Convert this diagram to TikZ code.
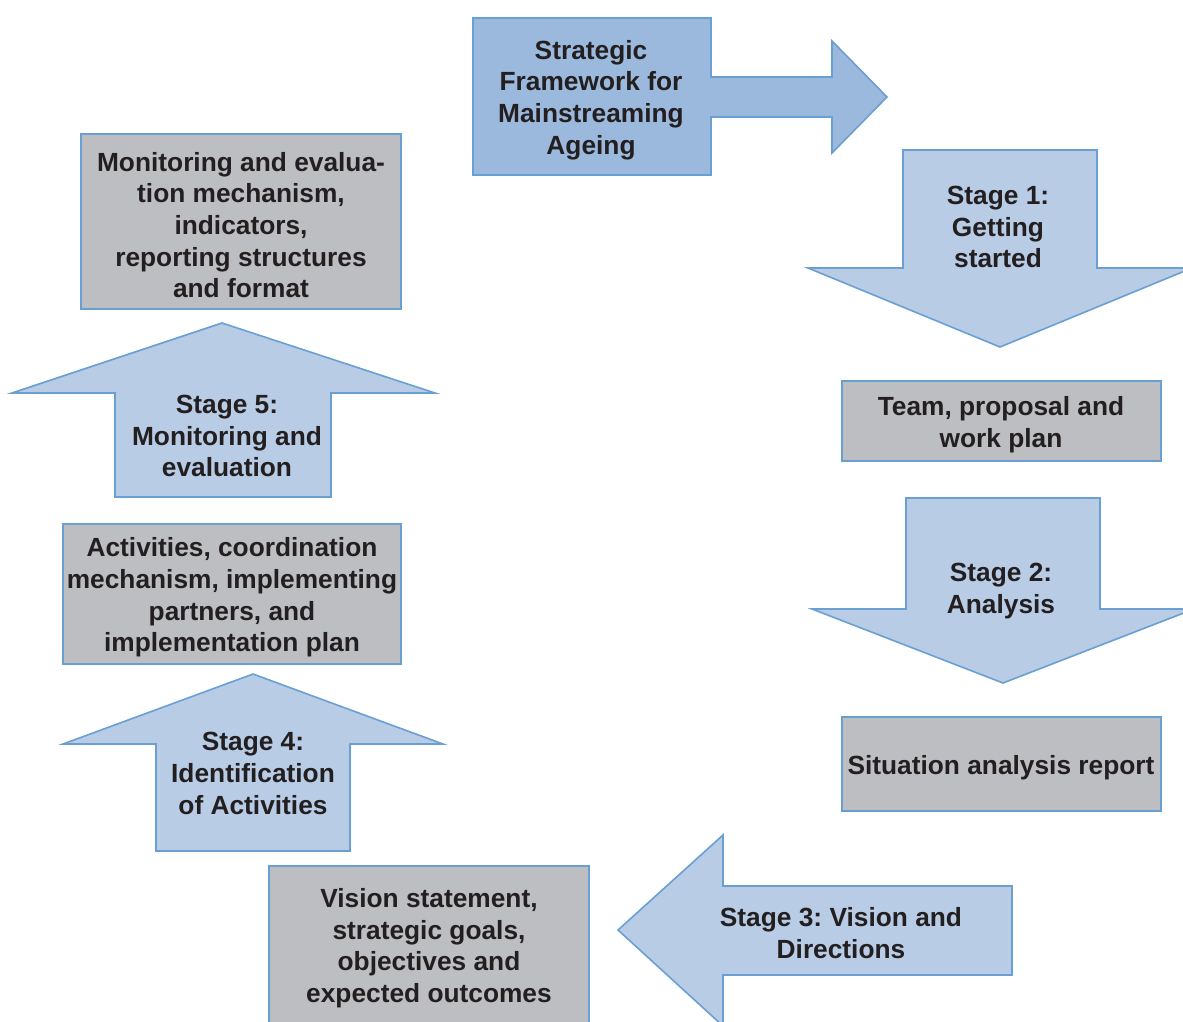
\documentclass[tikz,border=0pt]{standalone}
\usepackage{fontspec}
\setmainfont{Liberation Sans}
\frenchspacing
\definecolor{edge}{HTML}{6A9FD2}
\definecolor{deepblue}{HTML}{9BB9DD}
\definecolor{paleblue}{HTML}{B8CCE6}
\definecolor{boxgrey}{HTML}{BDBEC1}
\definecolor{txt}{HTML}{231F20}
\tikzset{
  shp/.style={draw=edge, line width=1.6pt, line join=miter},
  outcome/.style={shp, fill=boxgrey},
  stagearrow/.style={shp, fill=paleblue},
  lbl/.style={align=center, text=txt, inner sep=0pt, yshift=-2.5pt,
    font=\bfseries\fontsize{26.3}{31.6}\selectfont}
}
\begin{document}
\begin{tikzpicture}[x=1pt,y=-1pt]
\useasboundingbox (0,0) rectangle (1183,1021);
\clip (0,0) rectangle (1183,1021);
\fill[white] (0,0) rectangle (1183,1021);

% framework box with its arrow to the right
\draw[shp, fill=deepblue] (473,18) -- (711,18) -- (711,77) -- (832,77) -- (832,41)
  -- (887,97) -- (832,153) -- (832,117) -- (711,117) -- (711,175) -- (473,175) -- cycle;
\node[lbl] (frame) at (591,97.5) {Strategic\\Framework for\\Mainstreaming\\Ageing};

% stage 1: down arrow
\draw[stagearrow] (903,150) -- (1097,150) -- (1097,268) -- (1192,268) -- (1000,347)
  -- (808,268) -- (903,268) -- cycle;
\node[lbl] (s1) at (998,224.5) {Stage 1:\\Getting\\started};

\draw[outcome] (842,381) rectangle (1161,461);
\node[lbl] (team) at (1001,422) {Team, proposal and\\work plan};

% stage 2: down arrow
\draw[stagearrow] (906,498) -- (1100,498) -- (1100,609) -- (1194,609) -- (1003,683)
  -- (812,609) -- (906,609) -- cycle;
\node[lbl] (s2) at (1001,588.5) {Stage 2:\\Analysis};

\draw[outcome] (842,717) rectangle (1161,811);
\node[lbl] (report) at (1001,765) {Situation analysis report};

% stage 3: left arrow
\draw[stagearrow] (1012,886) -- (1012,975) -- (723,975) -- (723,1026) -- (618,930)
  -- (723,835) -- (723,886) -- cycle;
\node[lbl] (s3) at (841,930.5) {Stage 3: Vision and\\Directions};

\draw[outcome] (269,866) rectangle (589,1030);
\node[lbl] (vision) at (429,945.5) {Vision statement,\\strategic goals,\\objectives and\\expected outcomes};

% stage 4: up arrow
\draw[stagearrow] (156,851) -- (156,744) -- (63,744) -- (253,674) -- (443,744)
  -- (350,744) -- (350,851) -- cycle;
\node[lbl] (s4) at (253,771) {Stage 4:\\Identification\\of Activities};

\draw[outcome] (63,524) rectangle (401,664);
\node[lbl] (acts) at (232,595) {Activities, coordination\\mechanism, implementing\\partners, and\\implementation plan};

% stage 5: up arrow
\draw[stagearrow] (115,497) -- (115,393) -- (12,393) -- (222,323) -- (435,393)
  -- (331,393) -- (331,497) -- cycle;
\node[lbl] (s5) at (227,433.5) {Stage 5:\\Monitoring and\\evaluation};

\draw[outcome] (81,134) rectangle (401,309);
\node[lbl] (monitor) at (241,222.5) {Monitoring and evalua-\\tion mechanism,\\indicators,\\reporting structures\\and format};
\end{tikzpicture}
\end{document}
